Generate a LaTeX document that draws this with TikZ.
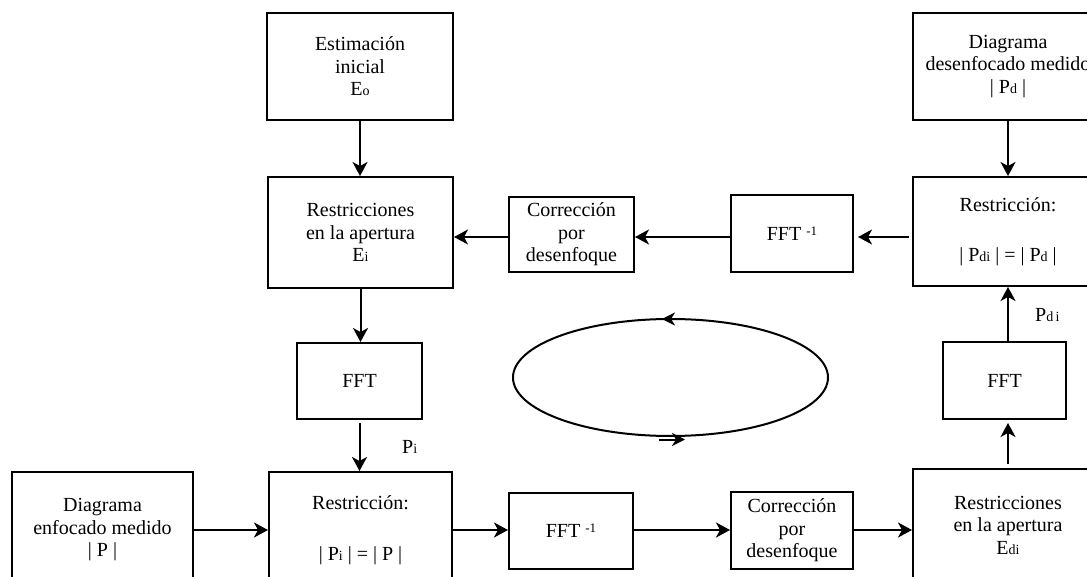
\documentclass[tikz,border=0pt]{standalone}
\usepackage{fontspec}
\setmainfont{Liberation Serif}
\usetikzlibrary{arrows.meta}
\newcommand{\sbt}[1]{{\fontsize{14}{14}\selectfont #1}}
\newcommand{\supm}[1]{\raisebox{5pt}{\fontsize{13}{13}\selectfont #1}}
\begin{document}
\begin{tikzpicture}[x=1pt,y=-1pt,
  box/.style={draw, line width=2pt, align=center, inner sep=0pt, font=\fontsize{20}{22.5}\selectfont},
  arr/.style={line width=2pt, -{Stealth[length=14pt,width=15pt,inset=4pt]}},
  arrs/.style={line width=2pt, -{Stealth[length=13pt,width=13pt,inset=4pt]}},
  lbl/.style={font=\fontsize{20}{22}\selectfont, inner sep=0pt, anchor=base west}]
\clip (0,0) rectangle (1087,577);
\fill[white] (0,0) rectangle (1087,577);
% boxes
\node[box, minimum width=186pt, minimum height=107pt] (A) at (360,66.5) {Estimación\\inicial\\E\sbt{o}};
\node[box, minimum width=190pt, minimum height=107pt] (B) at (1008,66.5) {Diagrama\\desenfocado medido\\| P\sbt{d} |};
\node[box, minimum width=185pt, minimum height=111pt] (C) at (360.5,232.5) {Restricciones\\en la apertura\\E\sbt{i}};
\node[box, minimum width=125pt, minimum height=75pt] (D) at (571.5,234.5) {Corrección\\por\\desenfoque};
\node[box, minimum width=122pt, minimum height=77pt] (E) at (792,233.5) {FFT \supm{-1}};
\node[box, minimum width=190pt, minimum height=109pt] (F) at (1008,231.5) {Restricción:\\[28pt]| P\sbt{di} | = | P\sbt{d} |};
\node[box, minimum width=125pt, minimum height=76pt] (G) at (359.5,381) {FFT};
\node[box, minimum width=123pt, minimum height=77pt] (H) at (1004.5,380.5) {FFT};
\node[box, minimum width=181pt, minimum height=116pt] (I) at (102.5,530) {Diagrama\\enfocado medido\\| P |};
\node[box, minimum width=183pt, minimum height=116pt] (J) at (360.5,530) {Restricción:\\[28pt]| P\sbt{i} | = | P |};
\node[box, minimum width=124pt, minimum height=76pt] (K) at (571,531) {FFT \supm{-1}};
\node[box, minimum width=122pt, minimum height=77pt] (L) at (792,530.5) {Corrección\\por\\desenfoque};
\node[box, minimum width=190pt, minimum height=112pt] (M) at (1008,525) {Restricciones\\en la apertura\\E\sbt{di}};
% labels
\node[lbl] (pi) at (402,453) {P\sbt{i}};
\node[lbl] (pdi) at (1035,322) {P\sbt{d\,i}};
% row coordinates
\coordinate (r1) at (0,237);
\coordinate (r2) at (0,530);
% arrows
\draw[arr] (A.south) -- (A.south |- C.north);
\draw[arr] (C.south) -- (C.south |- G.north);
\draw[arr, shorten <=3pt] (G.south) -- (G.south |- J.north);
\draw[arr] (I.east |- r2) -- (J.west |- r2);
\draw[arr] (J.east |- r2) -- (K.west |- r2);
\draw[arr] (K.east |- r2) -- (L.west |- r2);
\draw[arr] (L.east |- r2) -- (M.west |- r2);
\draw[arr, shorten <=4pt, shorten >=3pt] (M.north) -- (M.north |- H.south);
\draw[arr] (H.north -| F.south) -- (F.south);
\draw[arr] (B.south) -- (F.north);
\draw[arr, shorten <=3pt, shorten >=4pt] (F.west |- r1) -- (E.east |- r1);
\draw[arr] (E.west |- r1) -- (D.east |- r1);
\draw[arr] (D.west |- r1) -- (C.east |- r1);
% cycle ellipse
\draw[line width=2pt] (670.5,377.5) ellipse [x radius=157.5, y radius=58.5];
\draw[arrs] (676,319) -- (662,319);
\draw[arrs] (659,439.5) -- (685,439.5);
\end{tikzpicture}
\end{document}
